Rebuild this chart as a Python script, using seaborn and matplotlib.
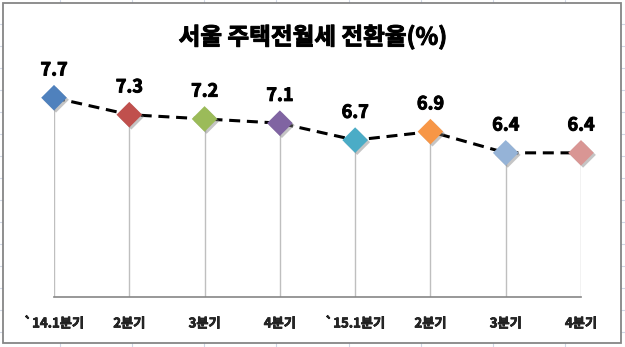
import matplotlib
matplotlib.use("Agg")
import matplotlib.pyplot as plt
import matplotlib.patheffects as pe
from matplotlib.lines import Line2D
from matplotlib.patches import Rectangle
import seaborn as sns
import pandas as pd

# ---- data ----
quarters = ["`14.1분기", "2분기", "3분기", "4분기", "`15.1분기", "2분기", "3분기", "4분기"]
rates = [7.7, 7.3, 7.2, 7.1, 6.7, 6.9, 6.4, 6.4]
value_labels = ["7.7", "7.3", "7.2", "7.1", "6.7", "6.9", "6.4", "6.4"]
marker_colors = ["#4F81BD", "#C0504D", "#9BBB59", "#8064A2",
                 "#4BACC6", "#F79646", "#95B3D7", "#D99694"]
title = "서울 주택전월세 전환율(%)"

sns.set_theme(style="white")
plt.rcParams['font.family'] = ['Noto Sans CJK KR', 'DejaVu Sans']

W, H = 625, 347
fig = plt.figure(figsize=(W / 100, H / 100), dpi=100)
fig.patch.set_facecolor("white")

# spreadsheet gridlines in the background
grid_c = "#D0D7E5"
for gx in [60, 132, 204, 276, 349, 421, 493, 565]:
    fig.add_artist(Line2D([gx / W, gx / W], [0, 1], color=grid_c, lw=0.8, zorder=0))
for i in range(16):
    gy = 24.3 + 22 * i
    fig.add_artist(Line2D([0, 1], [1 - gy / H, 1 - gy / H], color=grid_c, lw=0.8, zorder=0))
# chart area
fig.add_artist(Rectangle((3 / W, 1 - 343 / H), (621 - 3) / W, (343 - 3) / H,
                         facecolor="white", edgecolor="#868686", lw=1.3, zorder=1))

df = pd.DataFrame({"pos": range(len(quarters)), "rate": rates, "q": [f"{i}" for i in range(len(quarters))]})

ax = fig.add_axes([54 / W, (H - 297) / H, (581 - 54) / W, (297 - 85) / H])
ax.set_facecolor("none")
ax.set_zorder(2)

# drop lines
ax.vlines(df["pos"], 3, df["rate"], color="#BFBFBF", lw=1.0, zorder=1)

sns.lineplot(data=df, x="pos", y="rate", ax=ax, color="black", lw=2.2,
             linestyle=(0, (3.6, 2.2)), zorder=2)
sns.scatterplot(data=df, x="pos", y="rate", hue="q", palette=marker_colors,
                marker="D", s=170, edgecolor="none", ax=ax, legend=False,
                zorder=3, clip_on=False)
for coll in ax.collections[1:]:
    coll.set_path_effects([pe.SimplePatchShadow(offset=(1.5, -1.5), shadow_rgbFace="#808080", alpha=0.45),
                           pe.Normal()])
    coll.set_clip_on(False)

bold_fx = [pe.Stroke(linewidth=0.7, foreground="black"), pe.Normal()]
bold_fx_small = [pe.Stroke(linewidth=0.5, foreground="black"), pe.Normal()]

for x, y, t in zip(df["pos"], rates, value_labels):
    ax.annotate(t, (x, y), xytext=(0, 20), textcoords="offset points",
                ha="center", va="center", fontsize=13, fontweight="bold",
                color="black", annotation_clip=False, path_effects=bold_fx)

ax.set_xlim(0, 7)
ax.set_ylim(3, 8)
ax.set_xticks(list(range(len(quarters))))
ax.set_xticklabels(quarters, fontsize=9.5, fontweight="bold")
for lbl in ax.get_xticklabels():
    lbl.set_path_effects(bold_fx_small)
ax.tick_params(axis="x", length=0, pad=14)
ax.set_yticks([])
ax.set_xlabel("")
ax.set_ylabel("")
for s in ["left", "right", "top"]:
    ax.spines[s].set_visible(False)
ax.spines["bottom"].set_color("#868686")
ax.spines["bottom"].set_linewidth(1.2)

fig.text(313 / W, 1 - 37 / H, title, ha="center", va="center",
         fontsize=17, fontweight="bold", color="black", path_effects=bold_fx)

fig.savefig("out.png", dpi=100)
